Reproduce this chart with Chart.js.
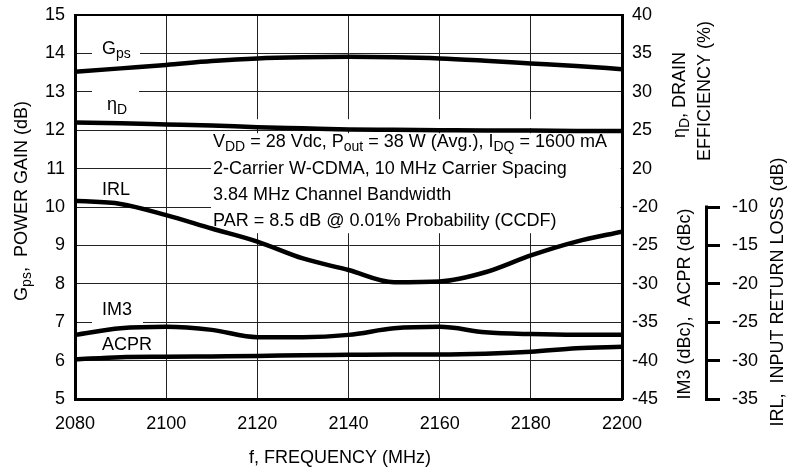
<!DOCTYPE html>
<html>
<head>
<meta charset="utf-8">
<script src="https://cdn.jsdelivr.net/npm/chart.js@4.4.1/dist/chart.umd.min.js"></script>
<style>
  body { margin: 0; background: #fff; }
  canvas { display: block; }
</style>
</head>
<body>
<canvas id="chart" width="791" height="470"></canvas>
<script>
const freqs = [2080, 2090, 2100, 2110, 2120, 2130, 2140, 2150, 2160, 2170, 2180, 2190, 2200];

// power gain (dB), left axis
const gpsData = [13.52, 13.61, 13.70, 13.80, 13.87, 13.90, 13.91, 13.90, 13.87, 13.81, 13.74, 13.67, 13.59];
// drain efficiency (%)
const effData = [26.0, 25.9, 25.75, 25.6, 25.4, 25.25, 25.1, 25.05, 25.0, 24.95, 24.95, 24.9, 24.9];
// input return loss (dB)
const irlData = [-9.2, -9.6, -11.05, -12.8, -14.5, -16.7, -18.2, -19.8, -19.7, -18.5, -16.3, -14.5, -13.2];
// IM3 and ACPR (dBc)
const im3Data = [-36.65, -35.8, -35.6, -36.0, -36.95, -36.95, -36.65, -35.8, -35.6, -36.3, -36.55, -36.65, -36.65];
const acprData = [-39.85, -39.55, -39.5, -39.45, -39.4, -39.3, -39.25, -39.2, -39.2, -39.1, -38.85, -38.4, -38.2];

// right axis labels, bottom (gain 5) to top (gain 15)
const rightTickLabels = ['-45', '-40', '-35', '-30', '-25', '-20', '20', '25', '30', '35', '40'];

const fam = "'Liberation Sans', Arial, sans-serif";
Chart.defaults.font.family = fam;
Chart.defaults.font.size = 18;
Chart.defaults.color = '#000';

const pts = arr => freqs.map((f, i) => ({ x: f, y: arr[i] }));

function drawRich(ctx, parts, x, y, align) {
  const big = '18px ' + fam, small = '14px ' + fam;
  let w = 0;
  parts.forEach(p => { ctx.font = p[1] ? small : big; w += ctx.measureText(p[0]).width; });
  let cx = align === 'center' ? x - w / 2 : x;
  parts.forEach(p => {
    ctx.font = p[1] ? small : big;
    ctx.fillText(p[0], cx, p[1] ? y + 5 : y);
    cx += ctx.measureText(p[0]).width;
  });
}

function drawRotated(ctx, parts, x, y) {
  ctx.save();
  ctx.translate(x, y);
  ctx.rotate(-Math.PI / 2);
  drawRich(ctx, parts, 0, 0, 'center');
  ctx.restore();
}

// fixed axis sizes so the plot area sits where the original does
const fixWidth = w => s => { s.width = w; s.paddingTop = 0; s.paddingBottom = 0; };

const overlay = {
  id: 'overlay',
  beforeDatasetsDraw(chart) {
    const { ctx, chartArea: a, scales: { y } } = chart;
    ctx.save();
    ctx.fillStyle = '#fff';
    // white gaps in the grid behind the labels
    ctx.fillRect(92, y.getPixelForValue(14) - 6, 48, 12);
    ctx.fillRect(92, y.getPixelForValue(13) - 6, 47, 12);
    ctx.fillRect(92, y.getPixelForValue(7) - 5, 51, 10);
    ctx.fillRect(211, y.getPixelForValue(12) + 3, a.right - 212.5, 100);
    ctx.fillRect(250, y.getPixelForValue(12) - 11, a.right - 251.5, 9);
    ctx.restore();
  },
  afterDraw(chart) {
    const { ctx, chartArea: a, scales } = chart;
    ctx.save();
    ctx.fillStyle = '#000';
    ctx.textBaseline = 'middle';
    ctx.textAlign = 'left';

    // top frame line
    ctx.strokeStyle = '#000';
    ctx.lineWidth = 2;
    ctx.beginPath();
    ctx.moveTo(a.left, a.top);
    ctx.lineTo(a.right, a.top);
    ctx.stroke();

    // IRL bracket axis line
    const irl = scales.yIrl;
    ctx.lineWidth = 3;
    ctx.beginPath();
    ctx.moveTo(irl.left + 1.5, irl.getPixelForValue(-10) - 1.5);
    ctx.lineTo(irl.left + 1.5, irl.getPixelForValue(-35) + 1.5);
    ctx.stroke();

    // curve labels
    drawRich(ctx, [['G', 0], ['ps', 1]], 102, 49);
    drawRich(ctx, [['\u03B7', 0], ['D', 1]], 107, 105);
    drawRich(ctx, [['IRL', 0]], 102, 190);
    drawRich(ctx, [['IM3', 0]], 102, 310);
    drawRich(ctx, [['ACPR', 0]], 102, 345);

    // test conditions
    drawRich(ctx, [['V', 0], ['DD', 1], [' = 28 Vdc, P', 0], ['out', 1], [' = 38 W (Avg.), I', 0], ['DQ', 1], [' = 1600 mA', 0]], 213, 142.5);
    drawRich(ctx, [['2-Carrier W-CDMA, 10 MHz Carrier Spacing', 0]], 213, 169);
    drawRich(ctx, [['3.84 MHz Channel Bandwidth', 0]], 213, 195);
    drawRich(ctx, [['PAR = 8.5 dB @ 0.01% Probability (CCDF)', 0]], 213, 221);

    // axis titles
    drawRich(ctx, [['f, FREQUENCY (MHz)', 0]], 340, 458, 'center');
    drawRotated(ctx, [['G', 0], ['ps', 1], [',  POWER GAIN (dB)', 0]], 22, 201);
    drawRotated(ctx, [['\u03B7', 0], ['D', 1], [', DRAIN', 0]], 680, 95);
    drawRotated(ctx, [['EFFICIENCY (%)', 0]], 705, 91);
    drawRotated(ctx, [['IM3 (dBc),  ACPR (dBc)', 0]], 685, 304);
    drawRotated(ctx, [['IRL,  INPUT RETURN LOSS (dB)', 0]], 778, 292);
    ctx.restore();
  }
};

const line = (data, axis) => ({
  data: pts(data),
  yAxisID: axis,
  borderColor: '#000',
  borderWidth: 4.5,
  pointRadius: 0,
  tension: 0.4,
  cubicInterpolationMode: 'monotone',
  fill: false
});

new Chart(document.getElementById('chart'), {
  type: 'line',
  data: {
    datasets: [
      line(gpsData, 'y'),
      line(effData, 'yEff'),
      line(irlData, 'yIrl'),
      line(im3Data, 'yDbc'),
      line(acprData, 'yDbc')
    ]
  },
  options: {
    responsive: false,
    animation: false,
    layout: { padding: { top: 15 } },
    plugins: { legend: { display: false }, tooltip: { enabled: false } },
    scales: {
      x: {
        type: 'linear', min: 2080, max: 2200,
        ticks: { stepSize: 20, padding: 14, callback: v => String(v) },
        grid: { color: '#222', lineWidth: 1, drawTicks: false },
        border: { color: '#000', width: 3 },
        afterFit: s => { s.height = 71; }
      },
      y: {
        position: 'left', min: 5, max: 15,
        ticks: { stepSize: 1, padding: 10 },
        grid: { color: '#222', lineWidth: 1, drawTicks: false },
        border: { color: '#000', width: 3 },
        afterFit: fixWidth(75)
      },
      yR: {
        position: 'right', min: 5, max: 15,
        ticks: { stepSize: 1, padding: 10, callback: v => rightTickLabels[Math.round(v) - 5] },
        grid: { drawOnChartArea: false, drawTicks: false },
        border: { color: '#000', width: 3 },
        afterFit: fixWidth(83)
      },
      yIrl: {
        position: 'right', min: -35, max: 15,
        ticks: { stepSize: 5, padding: 12, callback: v => (v <= -10 ? String(v) : null) },
        grid: {
          drawOnChartArea: false, tickLength: 15, lineWidth: 3,
          color: c => (c.tick && c.tick.value <= -10 ? '#000' : 'rgba(0,0,0,0)')
        },
        border: { display: false },
        afterFit: fixWidth(86)
      },
      yEff: { display: false, min: -10, max: 40 },
      yDbc: { display: false, min: -45, max: 5 }
    }
  },
  plugins: [overlay]
});
</script>
</body>
</html>
